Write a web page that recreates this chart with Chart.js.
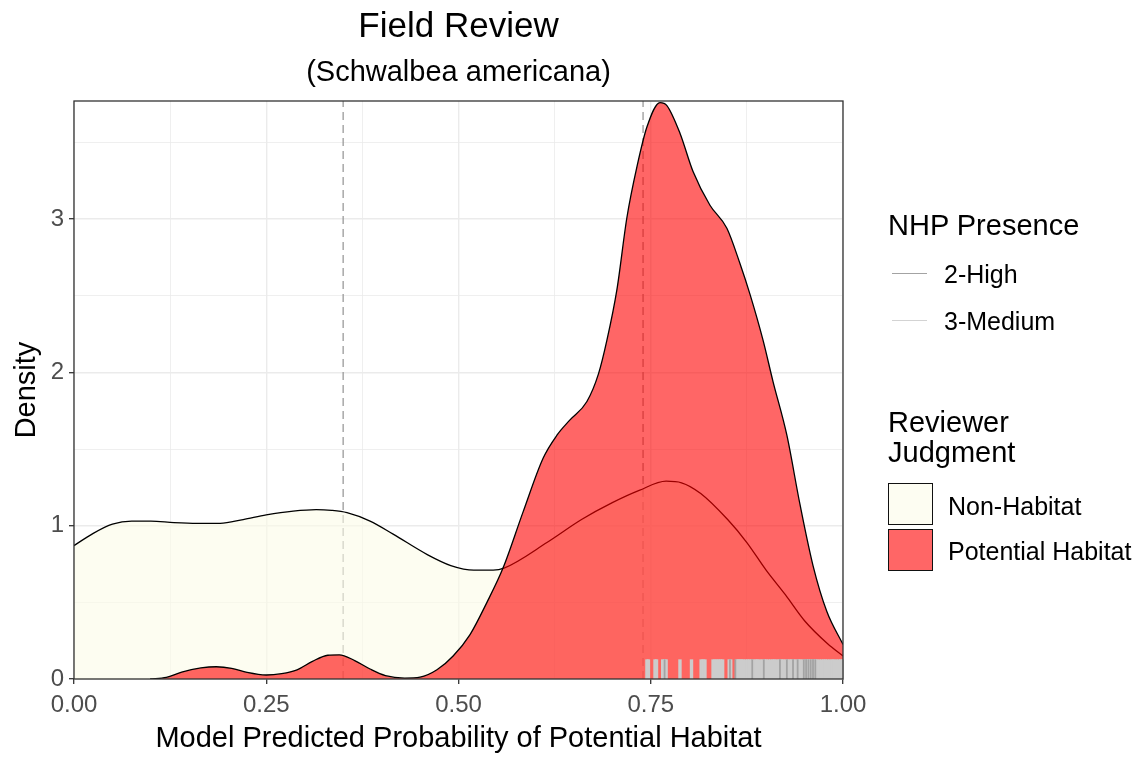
<!DOCTYPE html>
<html lang="en">
<head>
<meta charset="utf-8">
<title>Field Review</title>
<script src="https://cdn.jsdelivr.net/npm/chart.js@4.4.0/dist/chart.umd.min.js"></script>
<style>
    body { margin: 0; background: #fff; font-family: "Liberation Sans", Arial, sans-serif; }
    #wrap { position: relative; width: 1136px; height: 757px; }
    #wrap canvas { position: absolute; left: 0; top: 0; }
    .txt { position: absolute; white-space: nowrap; color: #000; }
    .ttl { left: 0; width: 917px; text-align: center; }
    .lt { font-size: 29px; line-height: 30px; }
    .li { font-size: 25px; line-height: 25px; }
    .key { position: absolute; left: 892px; width: 35px; height: 0; }
    .box { position: absolute; left: 888px; width: 43px; height: 40px; border: 1.5px solid #111; }
</style>
</head>
<body>
<div id="wrap">
    <canvas id="chart" width="1136" height="757"></canvas>

    <div class="txt ttl" style="top:7px; font-size:35px; line-height:35px;">Field Review</div>
    <div class="txt ttl" style="top:57px; font-size:29px; line-height:29px;">(Schwalbea americana)</div>

    <!-- legend: NHP Presence (rug colours) -->
    <div class="txt lt" style="left:888px; top:210px;">NHP Presence</div>
    <div class="key" style="top:273px; border-top:1.6px solid #a3a3a3;"></div>
    <div class="txt li" style="left:944px; top:262px;">2-High</div>
    <div class="key" style="top:320px; border-top:1.6px solid #d3d3d3;"></div>
    <div class="txt li" style="left:944px; top:309px;">3-Medium</div>

    <!-- legend: Reviewer Judgment (fills) -->
    <div class="txt lt" style="left:888px; top:407px;">Reviewer<br>Judgment</div>
    <div class="box" style="top:483px; background:#fdfdf2;"></div>
    <div class="txt li" style="left:948px; top:494px;">Non-Habitat</div>
    <div class="box" style="top:529px; background:#ff6666;"></div>
    <div class="txt li" style="left:948px; top:539px;">Potential Habitat</div>
</div>

<script>
// density curve for Non-Habitat
const nhX = [0, 0.025, 0.05, 0.075, 0.10, 0.13, 0.16, 0.19, 0.22, 0.25, 0.285, 0.315, 0.335, 0.355, 0.385, 0.415,
             0.46, 0.49, 0.52, 0.545, 0.56, 0.615, 0.66, 0.70, 0.735, 0.77, 0.79, 0.815, 0.85, 0.875, 0.90, 0.925,
             0.95, 0.98, 1.0];
const nhY = [0.87, 0.95, 1.01, 1.03, 1.03, 1.02, 1.015, 1.015, 1.04, 1.07, 1.095, 1.105, 1.10, 1.085, 1.03, 0.945,
             0.81, 0.74, 0.71, 0.71, 0.725, 0.89, 1.04, 1.15, 1.23, 1.29, 1.28, 1.21, 1.04, 0.89, 0.71, 0.55,
             0.38, 0.23, 0.15];

// density curve for Potential Habitat
const phX = [0.099, 0.12, 0.14, 0.165, 0.185, 0.205, 0.225, 0.25, 0.27, 0.29, 0.31, 0.33, 0.345, 0.365, 0.385, 0.405,
             0.43, 0.45, 0.472, 0.493, 0.515, 0.537, 0.558, 0.584, 0.61, 0.628, 0.645, 0.667, 0.682, 0.693, 0.706,
             0.719, 0.732, 0.745, 0.762, 0.771, 0.788, 0.805, 0.827, 0.849, 0.866, 0.879, 0.896, 0.909, 0.927,
             0.944, 0.961, 0.979, 1.0];
const phY = [0, 0.01, 0.045, 0.072, 0.08, 0.07, 0.043, 0.026, 0.035, 0.06, 0.115, 0.155, 0.158, 0.12, 0.065, 0.022,
             0.006, 0.012, 0.06, 0.15, 0.29, 0.5, 0.725, 1.09, 1.44, 1.59, 1.69, 1.81, 1.99, 2.21, 2.54,
             3.01, 3.34, 3.60, 3.76, 3.74, 3.56, 3.31, 3.09, 2.94, 2.71, 2.51, 2.21, 1.94, 1.59,
             1.14, 0.74, 0.44, 0.225];

// dashed reference lines
const refLines = [0.35, 0.74];

// rug values by NHP presence
const rugMedium = [0.745, 0.747, 0.7555, 0.7575, 0.7655, 0.768, 0.770, 0.788, 0.803, 0.8155, 0.818, 0.8205,
                   0.831, 0.8335, 0.836, 0.8385, 0.841, 0.8435, 0.852, 0.854,
                   0.862, 0.864, 0.866, 0.868, 0.870, 0.873, 0.876, 0.878, 0.881, 0.884, 0.887, 0.889,
                   0.892, 0.895, 0.898, 0.900, 0.903, 0.906, 0.909, 0.911, 0.914, 0.917, 0.920, 0.922, 0.925,
                   0.928, 0.931, 0.933, 0.936, 0.939, 0.942, 0.944, 0.947, 0.950, 0.953, 0.955, 0.958, 0.961,
                   0.964, 0.966, 0.969, 0.972, 0.975, 0.977, 0.980, 0.983, 0.986, 0.988, 0.991, 0.994, 0.997, 0.999];
const rugHigh = [0.768, 0.853, 0.860, 0.882, 0.897, 0.918, 0.927, 0.935, 0.941, 0.949, 0.952, 0.955,
                 0.958, 0.961, 0.964];

const xTitle = 'Model Predicted Probability of Potential Habitat';
const yTitle = 'Density';

const FONT = '"Liberation Sans", Arial, sans-serif';
Chart.defaults.font.family = FONT;

function isMajorX(v) { return Math.abs(v * 4 - Math.round(v * 4)) < 1e-6; }
function isMajorY(v) { return Math.abs(v - Math.round(v)) < 1e-6; }

const extras = {
    id: 'extras',
    beforeDatasetsDraw(chart) {
        const {ctx, chartArea: a, scales: {x}} = chart;
        ctx.save();
        ctx.strokeStyle = '#9a9a9a';
        ctx.lineWidth = 1.3;
        ctx.setLineDash([8, 5]);
        refLines.forEach(v => {
            const px = x.getPixelForValue(v);
            ctx.beginPath();
            ctx.moveTo(px, a.bottom);
            ctx.lineTo(px, a.top);
            ctx.stroke();
        });
        ctx.restore();
    },
    afterDatasetsDraw(chart) {
        const {ctx, chartArea: a, scales: {x}} = chart;
        const len = (a.bottom - a.top) * 0.034;
        ctx.save();
        // rug
        const rug = (vals, col, w) => {
            ctx.strokeStyle = col;
            ctx.lineWidth = w;
            vals.forEach(v => {
                const px = x.getPixelForValue(v);
                ctx.beginPath();
                ctx.moveTo(px, a.bottom);
                ctx.lineTo(px, a.bottom - len);
                ctx.stroke();
            });
        };
        rug(rugMedium, '#cccccc', 3.4);
        rug(rugHigh, '#a3a3a3', 1.8);
        // panel border
        ctx.strokeStyle = '#333333';
        ctx.lineWidth = 1.3;
        ctx.strokeRect(a.left, a.top, a.right - a.left, a.bottom - a.top);
        ctx.restore();
    }
};

const toPts = (xs, ys) => xs.map((v, i) => ({x: v, y: ys[i]}));

new Chart(document.getElementById('chart'), {
    type: 'line',
    data: {
        datasets: [{
            label: 'Non-Habitat',
            data: toPts(nhX, nhY),
            borderColor: '#000',
            borderWidth: 1.3,
            backgroundColor: 'rgba(252,252,232,0.6)',
            fill: 'origin',
            pointRadius: 0,
            cubicInterpolationMode: 'monotone',
            order: 2
        }, {
            label: 'Potential Habitat',
            data: toPts(phX, phY),
            borderColor: '#000',
            borderWidth: 1.3,
            backgroundColor: 'rgba(255,0,0,0.6)',
            fill: 'origin',
            pointRadius: 0,
            cubicInterpolationMode: 'monotone',
            order: 1
        }]
    },
    options: {
        responsive: false,
        devicePixelRatio: 1,
        animation: false,
        layout: { padding: { top: 101, right: 293, bottom: 0, left: 0 } },
        plugins: { legend: { display: false }, tooltip: { enabled: false } },
        scales: {
            x: {
                type: 'linear', min: 0, max: 1,
                afterFit: s => { s.height = 78; },
                border: { display: false },
                grid: {
                    color: '#ebebeb',
                    lineWidth: c => isMajorX(c.tick.value) ? 1.4 : 0.8,
                    tickLength: 5,
                    tickWidth: 1.3,
                    tickColor: c => isMajorX(c.tick.value) ? '#333333' : 'rgba(0,0,0,0)'
                },
                ticks: {
                    stepSize: 0.125, autoSkip: false, maxRotation: 0, includeBounds: false,
                    color: '#4d4d4d', font: { size: 24 }, padding: 7,
                    callback: v => isMajorX(v) ? v.toFixed(2) : ''
                },
                title: { display: true, text: xTitle, color: '#000', font: { size: 29 }, padding: { top: 0, bottom: 1 } }
            },
            y: {
                min: 0, max: 3.77,
                afterFit: s => { s.width = 74; },
                border: { display: false },
                grid: {
                    color: '#ebebeb',
                    lineWidth: c => isMajorY(c.tick.value) ? 1.4 : 0.8,
                    tickLength: 5,
                    tickWidth: 1.3,
                    tickColor: c => isMajorY(c.tick.value) ? '#333333' : 'rgba(0,0,0,0)'
                },
                ticks: {
                    stepSize: 0.5, autoSkip: false, includeBounds: false,
                    color: '#4d4d4d', font: { size: 24 }, padding: 5,
                    callback: v => isMajorY(v) ? String(v) : ''
                },
                title: { display: true, text: yTitle, color: '#000', font: { size: 29 }, padding: { top: 10, bottom: 0 } }
            }
        }
    },
    plugins: [extras]
});
</script>
</body>
</html>
